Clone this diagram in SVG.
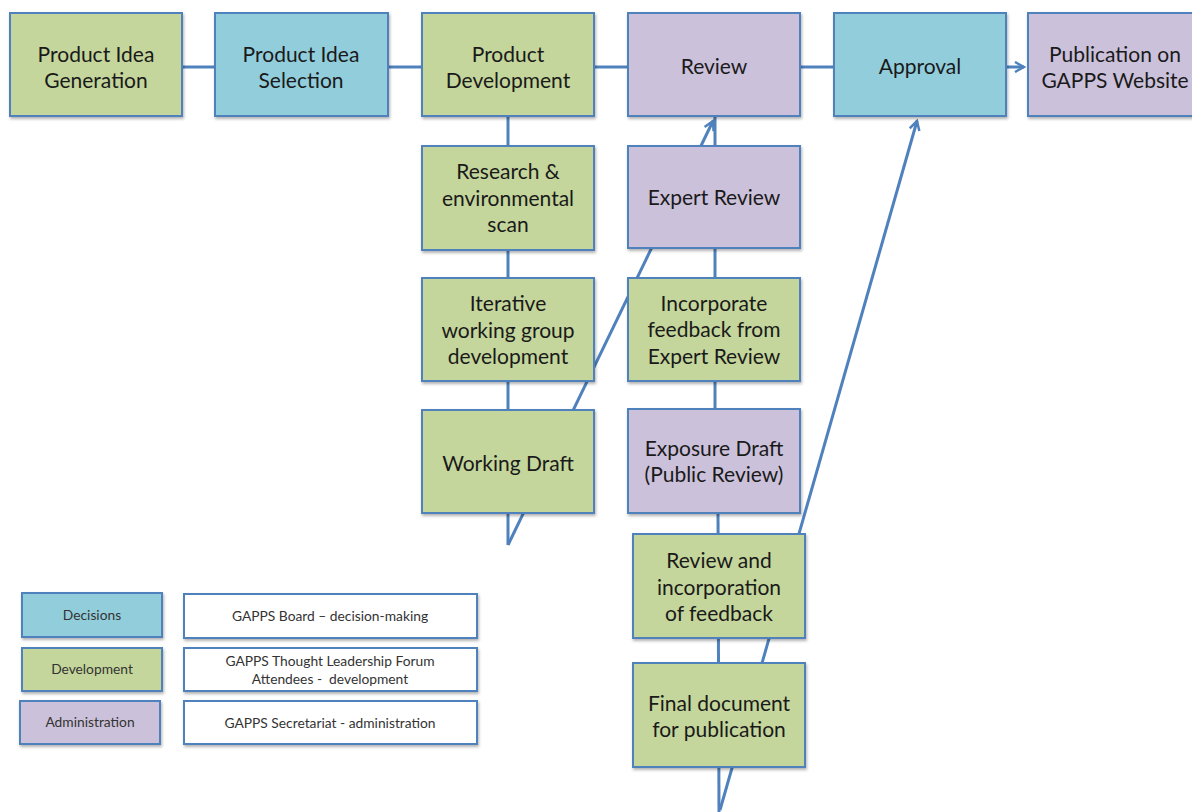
<svg xmlns="http://www.w3.org/2000/svg" width="1192" height="812" viewBox="0 0 1192 812">
<defs>
<filter id="sh" x="-10%" y="-10%" width="130%" height="130%"><feDropShadow dx="1" dy="2" stdDeviation="1.5" flood-color="#000" flood-opacity="0.3"/></filter>
<marker id="arr" viewBox="0 0 12 12" refX="10" refY="6" markerWidth="4" markerHeight="4" orient="auto" markerUnits="strokeWidth"><path d="M1,1 L10,6 L1,11" fill="none" stroke="#4f81bd" stroke-width="2.5" stroke-linejoin="miter"/></marker>
<style>
.g{fill:#c4d69b}.b{fill:#92cddc}.p{fill:#ccc1da}.w{fill:#fff}
rect{stroke:#4f81bd;stroke-width:2;filter:url(#sh)}
text{font-family:Lato,"Open Sans","Liberation Sans",sans-serif;font-size:21px;fill:#1a1a1a;text-anchor:middle}
.s{font-size:13.8px;fill:#333}
.c{fill:none;stroke:#4f81bd;stroke-width:3}
</style>
</defs>
<g id="connectors">
<line class="c" x1="182" y1="67" x2="1024" y2="67" marker-end="url(#arr)"/>
<line class="c" x1="508" y1="116" x2="508" y2="545"/>
<line class="c" x1="508" y1="545" x2="713" y2="121" marker-end="url(#arr)"/>
<line class="c" x1="715" y1="116" x2="715" y2="512"/>
<line class="c" x1="718" y1="512" x2="719" y2="812"/>
<line class="c" x1="720" y1="810" x2="917" y2="121" marker-end="url(#arr)"/>
</g>
<g id="n1"><rect class="g" x="10" y="13" width="172" height="103"/><text x="96" y="62">Product Idea</text><text x="96" y="88">Generation</text></g>
<g id="n2"><rect class="b" x="215" y="13" width="173" height="103"/><text x="301" y="62">Product Idea</text><text x="301" y="88">Selection</text></g>
<g id="n3"><rect class="g" x="422" y="13" width="172" height="103"/><text x="508" y="62">Product</text><text x="508" y="88">Development</text></g>
<g id="n4"><rect class="p" x="628" y="13" width="172" height="103"/><text x="714" y="74">Review</text></g>
<g id="n5"><rect class="b" x="834" y="13" width="172" height="103"/><text x="920" y="74">Approval</text></g>
<g id="n6"><rect class="p" x="1028" y="13" width="172" height="103"/><text x="1115" y="62">Publication on</text><text x="1115" y="88">GAPPS Website</text></g>
<g id="n7"><rect class="g" x="422" y="146" width="172" height="104"/><text x="508" y="179">Research &amp;</text><text x="508" y="206">environmental</text><text x="508" y="232">scan</text></g>
<g id="n8"><rect class="g" x="422" y="278" width="172" height="103"/><text x="508" y="311">Iterative</text><text x="508" y="338">working group</text><text x="508" y="364">development</text></g>
<g id="n9"><rect class="g" x="422" y="410" width="172" height="103"/><text x="508" y="471">Working Draft</text></g>
<g id="n10"><rect class="p" x="628" y="146" width="172" height="102"/><text x="714" y="205">Expert Review</text></g>
<g id="n11"><rect class="g" x="628" y="278" width="172" height="103"/><text x="714" y="311">Incorporate</text><text x="714" y="337">feedback from</text><text x="714" y="364">Expert Review</text></g>
<g id="n12"><rect class="p" x="628" y="409" width="172" height="104"/><text x="714" y="456">Exposure Draft</text><text x="714" y="482">(Public Review)</text></g>
<g id="n13"><rect class="g" x="633" y="534" width="172" height="104"/><text x="719" y="568">Review and</text><text x="719" y="595">incorporation</text><text x="719" y="621">of feedback</text></g>
<g id="n14"><rect class="g" x="633" y="663" width="172" height="104"/><text x="719" y="711">Final document</text><text x="719" y="737">for publication</text></g>
<g id="legend">
<g id="l1"><rect class="b" x="22" y="593" width="140" height="44"/><text class="s" x="92" y="620">Decisions</text></g>
<g id="l2"><rect class="g" x="22" y="648" width="140" height="43"/><text class="s" x="92" y="674">Development</text></g>
<g id="l3"><rect class="p" x="20" y="701" width="140" height="43"/><text class="s" x="90" y="727">Administration</text></g>
<g id="l4"><rect class="w" x="184" y="594" width="293" height="44"/><text class="s" x="330" y="621">GAPPS Board – decision-making</text></g>
<g id="l5"><rect class="w" x="184" y="648" width="293" height="43"/><text class="s" x="330" y="666">GAPPS Thought Leadership Forum</text><text class="s" x="330" y="684" xml:space="preserve">Attendees -  development</text></g>
<g id="l6"><rect class="w" x="184" y="701" width="293" height="43"/><text class="s" x="330" y="728">GAPPS Secretariat - administration</text></g>
</g>
</svg>
